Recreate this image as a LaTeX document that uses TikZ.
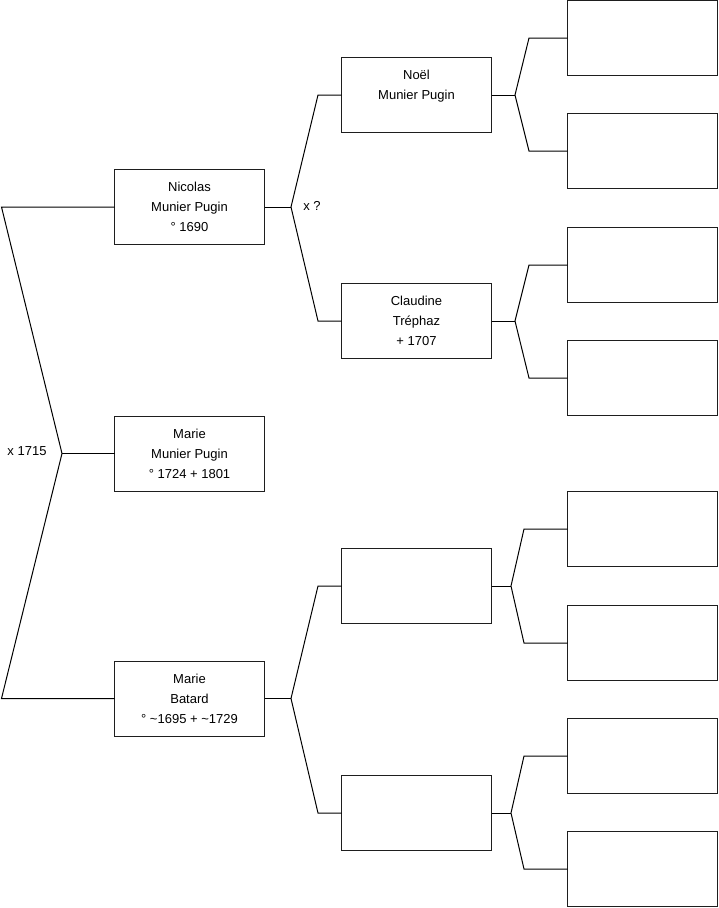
\documentclass[tikz,border=0pt]{standalone}
\usepackage{fontspec}
\setmainfont{Liberation Sans}
\usetikzlibrary{calc}
\definecolor{ink}{RGB}{0,0,0}
\definecolor{frame}{RGB}{30,30,30}
\tikzset{
  every picture/.style={color=ink, line width=1pt, x=1pt, y=-1pt, font=\fontsize{13}{20}\selectfont},
  person/.style={draw=frame, fill=white, minimum width=150pt, minimum height=75pt, inner sep=0pt, outer sep=0pt, align=center},
  link/.style={draw=ink, line width=1pt, line join=miter},
  tag/.style={inner sep=1pt},
}

\begin{document}
\begin{tikzpicture}
  \useasboundingbox (0,0) rectangle (719,908);
  % generation 1: the child, her father and mother
  \node[person] (nicolas) at (189.5,207) {Nicolas\\Munier Pugin\\° 1690};
  \node[person] (marie)   at (189.5,453.5) {Marie\\Munier Pugin\\° 1724 + 1801};
  \node[person] (batard)  at (189.5,698.5) {Marie\\Batard\\° \textasciitilde1695 + \textasciitilde1729};
  % generation 2
  \node[person] (noel)     at (416.5,95)  {Noël\\Munier Pugin\\\phantom{° 1690}};
  \node[person] (claudine) at (416.5,321) {Claudine\\Tréphaz\\+ 1707};
  \node[person] (b3)       at (416.5,586) {};
  \node[person] (b4)       at (416.5,813) {};
  % generation 3, all empty
  \foreach \i/\y in {1/38,2/151,3/265,4/378,5/529,6/643,7/756,8/869} { \node[person] (c\i) at (642.5,\y) {}; }
  % marriage bracket on the left
  \coordinate (fm) at (62,453.5);
  \draw[link] (nicolas.west) -- ++(-113,0) -- (fm) -- ($(batard.west)+(-113,0)$) -- (batard.west);
  \draw[link] (fm) -- (marie.west);
  \node[tag] (wed1) at (27,451) {x 1715};
  % parent forks
  \foreach \p/\a/\b/\v/\w in {nicolas/noel/claudine/26.5/23.5, batard/b3/b4/26.5/23.5, noel/c1/c2/23.5/38.5, claudine/c3/c4/23.5/38.5, b3/c5/c6/19.5/43.5, b4/c7/c8/19.5/43.5} {
    \draw[link] (\p.east) -- ++(\v,0) coordinate (f\p);
    \draw[link] (\a.west) -- ++(-\w,0) -- (f\p) -- ($(\b.west)+(-\w,0)$) -- (\b.west);
  }
  \node[tag] (wed2) at (312,206) {x ?};
\end{tikzpicture}
\end{document}
